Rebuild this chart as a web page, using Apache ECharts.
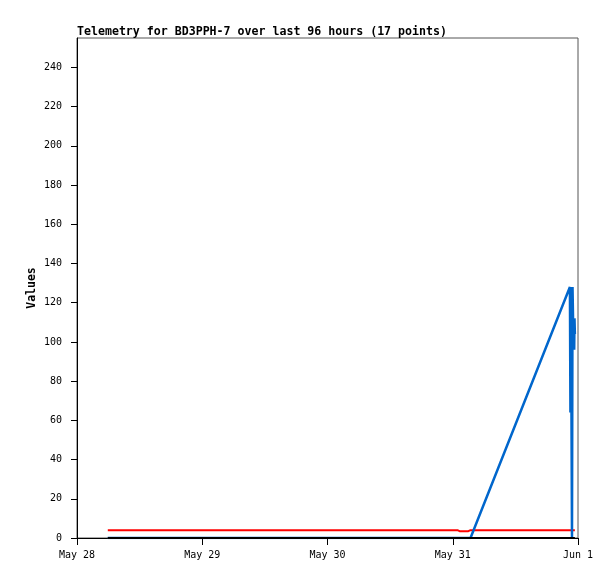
<!DOCTYPE html>
<html>
<head>
<meta charset="utf-8">
<script src="https://cdn.jsdelivr.net/npm/echarts@6/dist/echarts.min.js"></script>
<style>html,body{margin:0;padding:0;background:#fff}#c{width:615px;height:579px}</style>
</head>
<body>
<div id="c"></div>
<script>
// hours since May 28 00:00
const hours = [5.9, 72.9, 73.3, 75.0, 75.4, 94.45, 94.55, 94.65, 94.75, 94.85, 94.95, 95.05, 95.12, 95.2, 95.27, 95.33, 95.4];
const blackValues = [0, 0, 0, 0, 0, 0, 0, 0, 0, 0, 0, 0, 0, 0, 0, 0, 0];
const redValues = [4, 4, 3.5, 3.5, 4, 4, 4, 4, 4, 4, 4, 4, 4, 4, 4, 4, 4];
const blueValues = [0, 0, 0, 0, 0, 128, 64, 128, 128, 0, 128, 112, 96, 112, 96, 112, 104];
const xTickLabels = ['May 28', 'May 29', 'May 30', 'May 31', 'Jun 1'];
const yTicks = [0, 20, 40, 60, 80, 100, 120, 140, 160, 180, 200, 220, 240];
const titleText = 'Telemetry for BD3PPH-7 over last 96 hours (17 points)';

const pairs = v => hours.map((h, i) => [h, v[i]]);
const mono = 'DejaVu Sans Mono';
const chart = echarts.init(document.getElementById('c'));
chart.setOption({
  animation: false,
  backgroundColor: '#fff',
  title: {
    text: titleText, left: 77, top: 26, padding: 0,
    textStyle: { fontFamily: mono, fontWeight: 'bold', fontSize: 11.6, color: '#000' }
  },
  grid: { left: 77, top: 38, right: 37, bottom: 41, show: true, borderColor: '#555', borderWidth: 1 },
  xAxis: {
    type: 'value', min: 0, max: 96, interval: 24,
    axisLine: { lineStyle: { color: '#000', width: 1 } },
    axisTick: { length: 7, lineStyle: { color: '#000' } },
    splitLine: { show: false },
    axisLabel: {
      margin: 12, color: '#000', fontFamily: mono, fontSize: 10,
      formatter: v => xTickLabels[Math.round(v / 24)]
    }
  },
  yAxis: {
    type: 'value', min: 0, max: 255,
    name: 'Values', nameLocation: 'middle', nameGap: 39, nameMoveOverlap: false,
    nameTextStyle: { fontFamily: mono, fontWeight: 'bold', fontSize: 11.5, color: '#000' },
    axisLine: { show: true, lineStyle: { color: '#000', width: 1 } },
    axisTick: { show: true, length: 6, lineStyle: { color: '#000' }, customValues: yTicks },
    splitLine: { show: false },
    axisLabel: { margin: 15, color: '#000', fontFamily: mono, fontSize: 10, customValues: yTicks }
  },
  series: [
    { type: 'line', data: pairs(redValues), showSymbol: false, lineStyle: { color: '#ff0000', width: 2 }, itemStyle: { color: '#ff0000' } },
    { type: 'line', data: pairs(blueValues), showSymbol: false, lineStyle: { color: '#0066cc', width: 2.5 }, itemStyle: { color: '#0066cc' } },
    { type: 'line', data: pairs(blackValues), showSymbol: false, lineStyle: { color: '#000', width: 2 }, itemStyle: { color: '#000' } }
  ]
});
</script>
</body>
</html>
